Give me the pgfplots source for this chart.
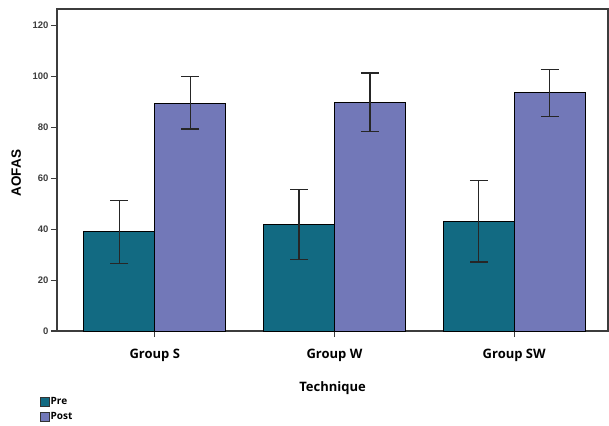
\documentclass[border=0pt]{standalone}
\usepackage{pgfplots}
\pgfplotsset{compat=1.18}
\usepackage{pgfplotstable}
\usepackage{fontspec}
\setmainfont{Liberation Sans}
\newfontfamily\opensans{Open Sans}
\definecolor{preC}{RGB}{18,106,130}
\definecolor{postC}{RGB}{114,120,184}
\definecolor{axC}{RGB}{60,60,60}

\pgfplotstableread{
x pre preplus preminus post postplus postminus
0 39.0 12.2 12.4 89.5 10.4 10.2
1 42.0 13.7 13.8 89.9 11.4 11.4
2 42.9 16.2 15.8 93.6 9.0 9.4
}\datatab

\begin{document}
\begin{tikzpicture}[x=1pt,y=1pt]
\useasboundingbox (0,0) rectangle (609,425);
\begin{axis}[
  at={(57pt,94pt)}, anchor=south west,
  scale only axis, width=551pt, height=322pt,
  xmin=-0.544, xmax=2.522, ymin=0, ymax=126.5,
  axis line style={axC, line width=1.3pt},
  xtick={0,1,2}, xticklabels={Group S, Group W, Group SW},
  ytick={0,20,40,60,80,100,120},
  tick align=outside, tick pos=left,
  major tick length=6pt,
  tick style={axC, line width=1.1pt},
  xticklabel style={font=\opensans\bfseries\fontsize{13}{15}\selectfont, black, yshift=-9pt},
  yticklabel style={font=\bfseries\fontsize{9.5}{10}\selectfont, axC, xshift=1pt},
  /pgf/number format/assume math mode=true,
  xlabel={Technique}, ylabel={AOFAS},
  xlabel style={font=\opensans\bfseries\fontsize{13}{15}\selectfont, at={(axis description cs:0.5,-0.177)}, anchor=center},
  ylabel style={font=\bfseries\fontsize{13.5}{15}\selectfont, at={(axis description cs:-0.074,0.49)}, anchor=center},
  legend style={at={(axis description cs:-0.031,-0.203)}, anchor=north west, draw=none, fill=none,
    font=\opensans\bfseries\fontsize{10}{11}\selectfont, row sep=4pt, inner sep=0pt,
    nodes={inner sep=1pt, xshift=2pt}},
  legend cell align=left,
  legend image code/.code={\draw[#1, draw=black!80, line width=0.6pt] (0pt,-4.5pt) rectangle (9pt,4.5pt);},
  clip=false,
]
\addplot[ybar, bar width=71pt, bar shift=0pt, fill=preC, draw=black, line width=1pt,
  error bars/.cd, y dir=both, y explicit, error bar style={black!85, line width=1.3pt},
  error mark options={rotate=90, mark size=9pt, line width=1.3pt, black!85}]
  table[x expr=\thisrow{x}-0.1972, y=pre, y error plus=preplus, y error minus=preminus]{\datatab};
\addlegendentry{Pre}
\addplot[ybar, bar width=71pt, bar shift=0pt, fill=postC, draw=black, line width=1pt,
  error bars/.cd, y dir=both, y explicit, error bar style={black!85, line width=1.3pt},
  error mark options={rotate=90, mark size=9pt, line width=1.3pt, black!85}]
  table[x expr=\thisrow{x}+0.1972, y=post, y error plus=postplus, y error minus=postminus]{\datatab};
\addlegendentry{Post}
\end{axis}
\end{tikzpicture}
\end{document}
